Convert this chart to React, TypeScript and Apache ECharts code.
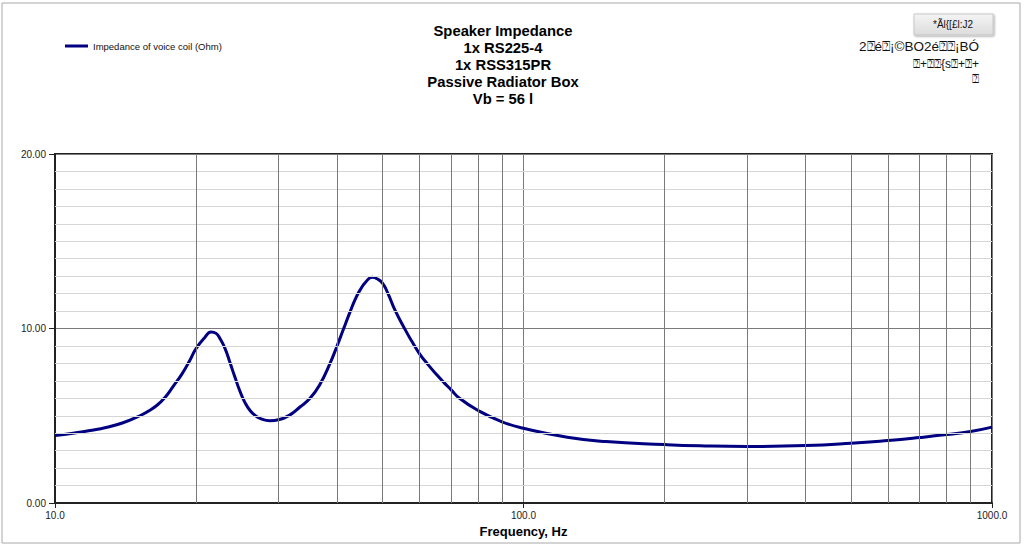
import React, { useEffect, useRef } from "react";
import * as echarts from "echarts";

const FREQ_HZ = [10, 10.93, 11.88, 12.91, 13.97, 15.18, 15.79, 16.51, 17.17, 17.86, 18.67, 19.42, 20, 20.9, 21.53, 22.07, 22.5, 23.07, 23.63, 24.22, 24.82, 25.44, 26.08, 26.73, 27.39, 28.77, 30, 31.74, 33.33, 35.02, 36.78, 38.64, 40, 41.19, 42.64, 43.7, 44.77, 46.11, 47.5, 48.68, 50, 51.38, 53.18, 55.86, 57.81, 60, 62.55, 65.38, 67.66, 70, 73.0, 80, 90, 100, 124, 150, 200, 238, 300, 400, 500, 600, 700, 800, 900, 1000];
const IMPEDANCE_OHM = [3.87, 4.0, 4.15, 4.34, 4.6, 5.0, 5.25, 5.6, 6.05, 6.67, 7.4, 8.2, 8.85, 9.5, 9.8, 9.72, 9.42, 8.85, 8.05, 7.2, 6.4, 5.75, 5.3, 5.02, 4.85, 4.72, 4.77, 5.05, 5.5, 6.0, 6.8, 8.0, 9.0, 9.9, 10.95, 11.65, 12.2, 12.68, 12.93, 12.85, 12.6, 12.0, 11.05, 9.95, 9.25, 8.55, 7.93, 7.33, 6.9, 6.5, 6.0, 5.3, 4.65, 4.28, 3.77, 3.52, 3.35, 3.28, 3.24, 3.29, 3.42, 3.58, 3.75, 3.92, 4.1, 4.35];
const MINOR_FREQ_LINES = [20, 30, 40, 50, 60, 70, 80, 90, 200, 300, 400, 500, 600, 700, 800, 900];
const MINOR_OHM_LINES = [1, 2, 3, 4, 5, 6, 7, 8, 9, 11, 12, 13, 14, 15, 16, 17, 18, 19];

const SERIES_NAME = "Impedance of voice coil (Ohm)";
const TITLE_LINES = ["Speaker Impedance", "1x RS225-4", "1x RSS315PR", "Passive Radiator Box", "Vb = 56 l"];
const BUTTON_TEXT = "*Ãl{[£l:J2";
const NOTE_LINES = ["2⍰é⍰¡©BO2é⍰⍰¡BÓ", "⍰+⍰⍰{s⍰+⍰+", "⍰"];
const X_AXIS_NAME = "Frequency, Hz";

const FONT = "'Liberation Sans', Arial, sans-serif";

export default function App() {
  const ref = useRef<HTMLDivElement>(null);

  useEffect(() => {
    if (!ref.current) return;
    const chart = echarts.init(ref.current, undefined, { renderer: "svg" });
    const data = FREQ_HZ.map((f, i) => [f, IMPEDANCE_OHM[i]]);

    chart.setOption({
      animation: false,
      backgroundColor: "#ffffff",
      textStyle: { fontFamily: FONT },
      legend: {
        data: [SERIES_NAME],
        left: 65,
        top: 41,
        padding: 0,
        icon: "rect",
        itemWidth: 23,
        itemHeight: 3,
        textStyle: { fontSize: 9.5, color: "#111", fontFamily: FONT },
      },
      grid: {
        left: 55,
        right: 32,
        top: 154,
        bottom: 43,
        show: true,
        borderColor: "#222",
        borderWidth: 2,
        backgroundColor: "transparent",
      },
      xAxis: {
        type: "log",
        logBase: 10,
        min: 10,
        max: 1000,
        name: X_AXIS_NAME,
        nameLocation: "middle",
        nameGap: 17,
        nameTextStyle: { fontSize: 13, fontWeight: "bold", color: "#000", fontFamily: FONT },
        axisLine: { show: true, lineStyle: { color: "#222", width: 2 } },
        axisTick: { show: true, length: 5, lineStyle: { color: "#222" } },
        axisLabel: {
          fontSize: 10,
          color: "#222",
          margin: 7,
          formatter: (v: number) => v.toFixed(1),
        },
        splitLine: { show: true, lineStyle: { color: "#7a7a7a", width: 1 } },
      },
      yAxis: {
        type: "value",
        min: 0,
        max: 20,
        interval: 10,
        axisLine: { show: true, lineStyle: { color: "#222", width: 2 } },
        axisTick: { show: true, length: 6, lineStyle: { color: "#222" } },
        axisLabel: {
          fontSize: 10,
          color: "#222",
          margin: 9,
          formatter: (v: number) => v.toFixed(2),
        },
        splitLine: { show: true, lineStyle: { color: "#7a7a7a", width: 1 } },
      },
      series: [
        {
          type: "line",
          name: "minor-grid-y",
          data: [],
          z: 0,
          silent: true,
          markLine: {
            silent: true,
            symbol: "none",
            animation: false,
            label: { show: false },
            lineStyle: { color: "#d6d6d6", width: 1, type: "solid", opacity: 1 },
            data: MINOR_OHM_LINES.map((v) => ({ yAxis: v })),
          },
        },
        {
          type: "line",
          name: "minor-grid-x",
          data: [],
          z: 1,
          silent: true,
          markLine: {
            silent: true,
            symbol: "none",
            animation: false,
            label: { show: false },
            lineStyle: { color: "#7a7a7a", width: 1, type: "solid" },
            data: MINOR_FREQ_LINES.map((f) => ({ xAxis: f })),
          },
        },
        {
          type: "line",
          name: SERIES_NAME,
          data,
          z: 3,
          smooth: 0.5,
          showSymbol: false,
          symbol: "none",
          lineStyle: { color: "#000080", width: 3 },
          itemStyle: { color: "#000080" },
        },
      ],
      graphic: [
        {
          type: "rect",
          z: -10,
          silent: true,
          shape: { x: 2, y: 3, width: 1018, height: 540 },
          style: { fill: "transparent", stroke: "#a8a8a8", lineWidth: 1 },
        },
        {
          type: "text",
          x: 503,
          y: 22,
          style: {
            text: TITLE_LINES.join("\n"),
            font: `bold 14.8px ${FONT}`,
            fill: "#000",
            align: "center",
            verticalAlign: "top",
            lineHeight: 17,
          },
        },
        {
          type: "rect",
          shape: { x: 914, y: 14, width: 79, height: 21 },
          style: {
            fill: new echarts.graphic.LinearGradient(0, 0, 0, 1, [
              { offset: 0, color: "#f4f4f4" },
              { offset: 1, color: "#dcdcdc" },
            ]),
            stroke: "#c8c8c8",
            lineWidth: 1,
            shadowBlur: 2,
            shadowOffsetX: 1,
            shadowOffsetY: 1,
            shadowColor: "rgba(0,0,0,0.35)",
          },
        },
        {
          type: "text",
          x: 953,
          y: 24.5,
          style: {
            text: BUTTON_TEXT,
            font: `10px ${FONT}`,
            fill: "#111",
            align: "center",
            verticalAlign: "middle",
          },
        },
        ...NOTE_LINES.map((t, i) => ({
          type: "text",
          x: 979,
          y: [46, 64, 79][i],
          style: {
            text: t,
            font: `${i === 0 ? 13.5 : 12}px ${FONT}`,
            fill: "#111",
            align: "right",
            verticalAlign: "middle",
          },
        })),
      ],
    });

    return () => chart.dispose();
  }, []);

  return (
    <div
      ref={ref}
      style={{ position: "absolute", left: 0, top: 0, width: 1024, height: 546 }}
    />
  );
}
